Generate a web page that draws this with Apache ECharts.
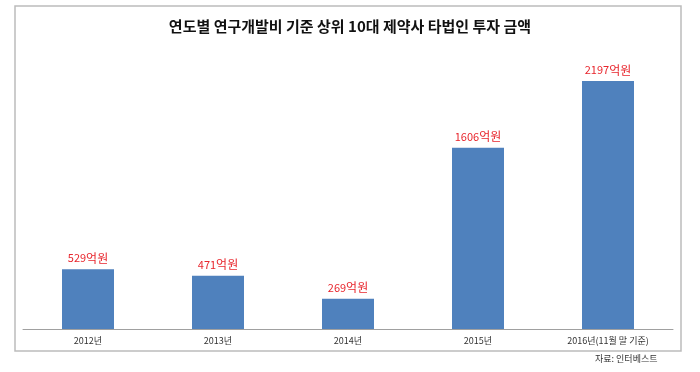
<!DOCTYPE html>
<html><head><meta charset="utf-8">
<script src="https://cdn.jsdelivr.net/npm/echarts@6/dist/echarts.min.js"></script>
<style>html,body{margin:0;padding:0;background:#fff}#c{width:700px;height:372px}</style>
</head><body><div id="c"></div>
<script>
const categories = ['2012년', '2013년', '2014년', '2015년', '2016년(11월 말 기준)'];
const values = [529, 471, 269, 1606, 2197];
const titleText = '연도별 연구개발비 기준 상위 10대 제약사 타법인 투자 금액';
const sourceText = '자료: 인터베스트';
const unit = '억원';

const chart = echarts.init(document.getElementById('c'), null, {renderer: 'canvas'});
const font = '"Noto Sans CJK KR", "Malgun Gothic", sans-serif';
chart.setOption({
  animation: false,
  backgroundColor: '#fff',
  title: {
    text: titleText, left: 'center', top: 14,
    textStyle: {fontFamily: font, fontSize: 15, fontWeight: 'bold', color: '#111'}
  },
  graphic: [
    {type: 'rect', shape: {x: 15, y: 6, width: 666, height: 345}, style: {fill: 'none', stroke: '#bcbcbc', lineWidth: 1.5}, silent: true},
    {type: 'text', left: 595, top: 354, style: {text: sourceText, font: '9px ' + font, fill: '#333'}}
  ],
  grid: {left: 23, right: 27, top: 40, bottom: 43},
  xAxis: {
    type: 'category', data: categories,
    axisLine: {lineStyle: {color: '#a0a0a0', width: 1}},
    axisTick: {show: false},
    axisLabel: {fontFamily: font, fontSize: 9, color: '#333', margin: 7}
  },
  yAxis: {type: 'value', min: 0, max: 2560, show: false, splitLine: {show: false}},
  series: [{
    type: 'bar', data: values, barWidth: 52,
    itemStyle: {color: '#4f81bd'},
    label: {
      show: true, position: 'top', distance: 5,
      formatter: p => '{n|' + p.value + '}{u|' + unit + '}',
      rich: {
        n: {fontFamily: font, fontSize: 11, color: '#e8262d'},
        u: {fontFamily: font, fontSize: 12, color: '#e8262d'}
      }
    }
  }]
});
</script></body></html>
